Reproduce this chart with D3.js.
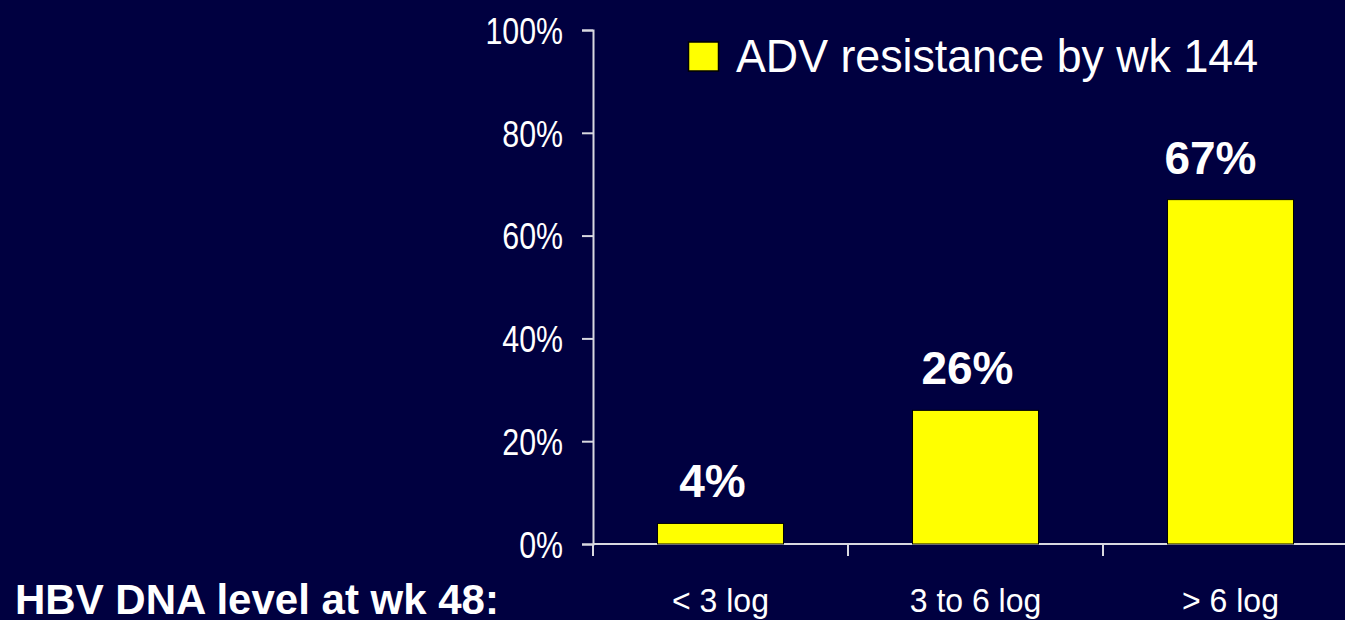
<!DOCTYPE html>
<html>
<head>
<meta charset="utf-8">
<script src="https://cdn.jsdelivr.net/npm/d3@7"></script>
<style>
  html, body { margin: 0; padding: 0; background: #000040; overflow: hidden; }
  svg { display: block; }
</style>
</head>
<body>
<svg id="chart" width="1345" height="620"></svg>
<script>
// ---- data ----
const categories = ["< 3 log", "3 to 6 log", "> 6 log"];
const values = [4, 26, 67];
const valueLabels = ["4%", "26%", "67%"];
const yTicks = [0, 20, 40, 60, 80, 100];
const seriesName = "ADV resistance by wk 144";
const xTitle = "HBV DNA level at wk 48:";

// ---- layout / style ----
const W = 1345, H = 620;
const axisX0 = 593, axisX1 = 1358;
const yTop = 30, yBottom = 544;
const sans = "'Liberation Sans', Arial, sans-serif";
const axisColor = "#d8d8e0";
const labelShift = [-8, -8, -20];   // horizontal nudge of value labels
const NARROW = 0.82;                 // emulate Arial Narrow

function condense(sel, f) {
  sel.each(function () {
    const w = this.getComputedTextLength();
    d3.select(this).attr("textLength", w * f).attr("lengthAdjust", "spacingAndGlyphs");
  });
}

const svg = d3.select("#chart");
svg.append("rect").attr("width", W).attr("height", H).attr("fill", "#000040");

const x = d3.scaleBand().domain(categories).range([axisX0, axisX1])
  .paddingInner(0.506).paddingOuter(0.253);
const y = d3.scaleLinear().domain([0, 100]).range([yBottom, yTop]);

// y axis
const yAxis = d3.axisLeft(y).tickValues(yTicks).tickSize(11).tickPadding(19)
  .tickFormat(d => d + "%");
const gy = svg.append("g").attr("transform", `translate(${axisX0},0)`).call(yAxis);
gy.select(".domain").attr("stroke", axisColor).attr("stroke-width", 2);
gy.selectAll(".tick line").attr("stroke", axisColor).attr("stroke-width", 2);
gy.selectAll(".tick text").attr("fill", "#ffffff").attr("font-family", sans)
  .attr("font-size", 37).attr("dy", "0.36em");
condense(gy.selectAll(".tick text"), NARROW);

// x axis line
const step = x.step();
svg.append("line").attr("x1", axisX0).attr("x2", axisX1)
  .attr("y1", yBottom).attr("y2", yBottom)
  .attr("stroke", axisColor).attr("stroke-width", 2);
// x ticks at band boundaries
const boundaries = d3.range(categories.length + 1).map(i => axisX0 + i * step);
svg.selectAll(".xtick").data(boundaries).join("line")
  .attr("class", "xtick")
  .attr("x1", d => d).attr("x2", d => d)
  .attr("y1", yBottom).attr("y2", yBottom + 12)
  .attr("stroke", axisColor).attr("stroke-width", 2);
// category labels
const xl = svg.selectAll(".xlab").data(categories).join("text")
  .attr("class", "xlab")
  .attr("x", d => x(d) + x.bandwidth() / 2)
  .attr("y", 612)
  .attr("text-anchor", "middle")
  .attr("fill", "#ffffff")
  .attr("font-family", sans)
  .attr("font-size", 34)
  .text(d => d);
condense(xl, 0.94);

// bars
svg.selectAll(".bar").data(values).join("rect")
  .attr("class", "bar")
  .attr("x", (d, i) => x(categories[i]))
  .attr("width", x.bandwidth())
  .attr("y", d => y(d))
  .attr("height", d => yBottom - y(d))
  .attr("fill", "#ffff00")
  .attr("stroke", "#000000")
  .attr("stroke-width", 1);

// value labels
svg.selectAll(".vlab").data(values).join("text")
  .attr("class", "vlab")
  .attr("x", (d, i) => x(categories[i]) + x.bandwidth() / 2 + labelShift[i])
  .attr("y", d => y(d) - 26)
  .attr("text-anchor", "middle")
  .attr("fill", "#ffffff")
  .attr("font-family", sans)
  .attr("font-weight", "bold")
  .attr("font-size", 46)
  .text((d, i) => valueLabels[i]);

// legend
svg.append("rect").attr("x", 688.5).attr("y", 42).attr("width", 30).attr("height", 29)
  .attr("fill", "#ffff00").attr("stroke", "#000000").attr("stroke-width", 1.5);
svg.append("text").attr("x", 736).attr("y", 72)
  .attr("fill", "#ffffff").attr("font-family", sans).attr("font-size", 46)
  .attr("textLength", 522).attr("lengthAdjust", "spacingAndGlyphs")
  .text(seriesName);

// x title
svg.append("text").attr("x", 15).attr("y", 614)
  .attr("fill", "#ffffff").attr("font-family", sans).attr("font-weight", "bold")
  .attr("font-size", 42)
  .text(xTitle);
</script>
</body>
</html>
